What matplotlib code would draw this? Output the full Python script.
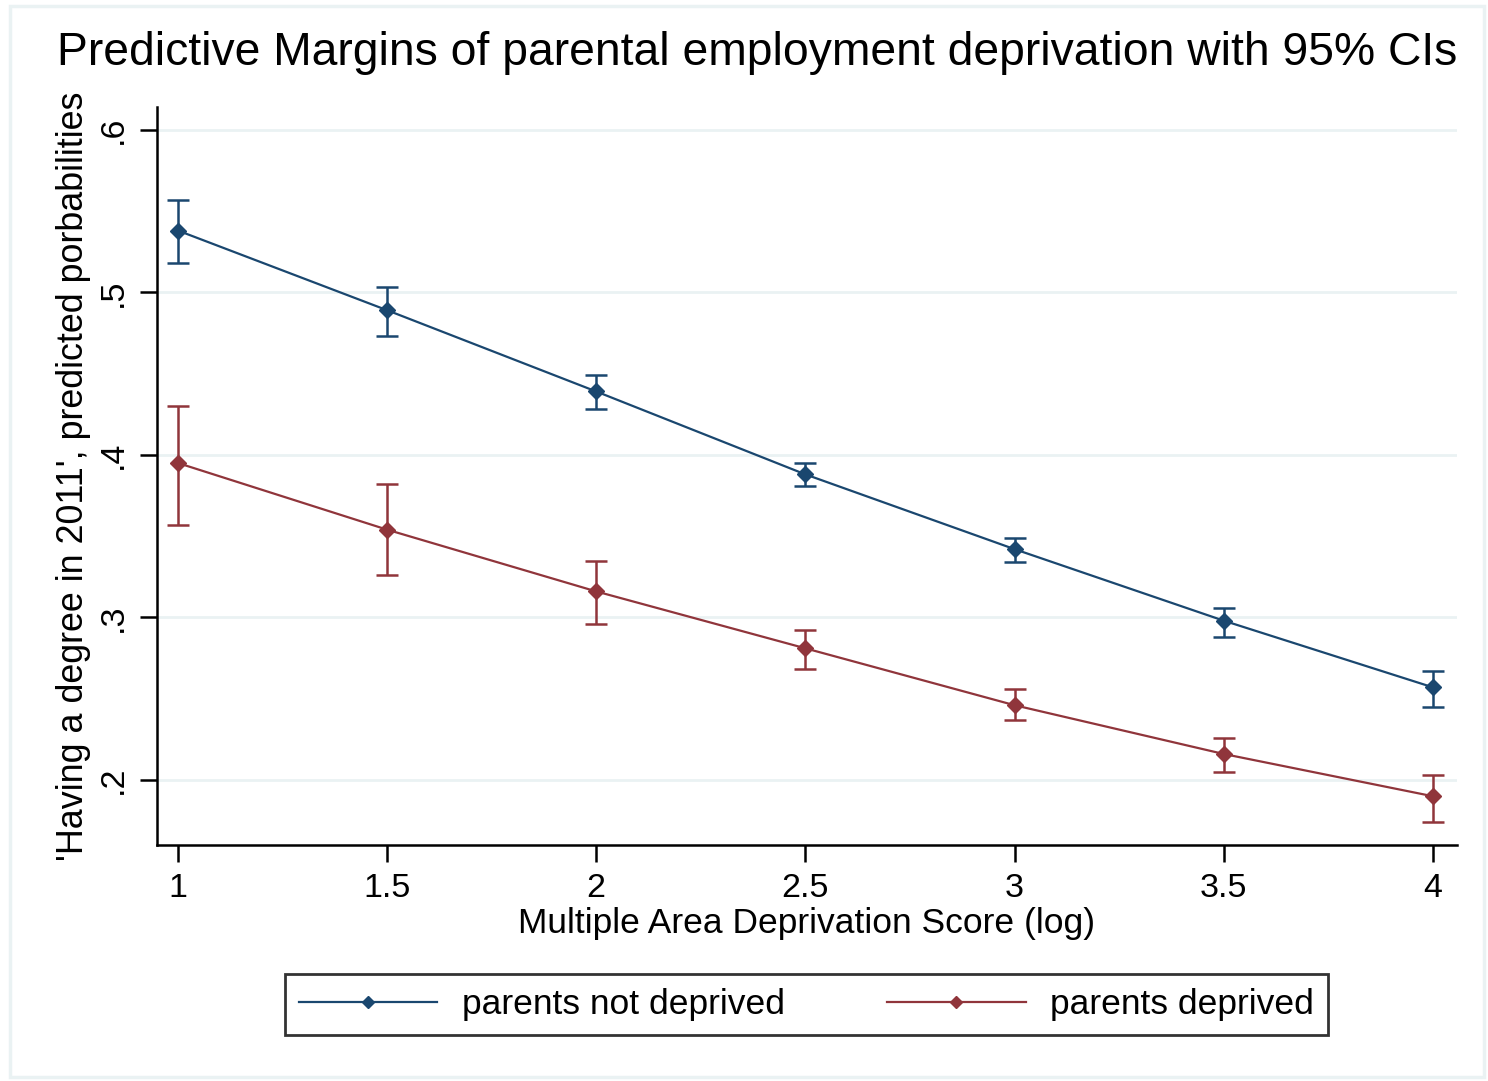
import matplotlib.pyplot as plt
from matplotlib.patches import Rectangle

plt.rcParams['font.family'] = ['Liberation Sans', 'DejaVu Sans']

# log area deprivation score
x_vals = [1, 1.5, 2, 2.5, 3, 3.5, 4]

# predicted probabilities and 95% CI bounds
not_dep = [0.538, 0.489, 0.439, 0.388, 0.342, 0.298, 0.257]
not_dep_lo = [0.518, 0.473, 0.428, 0.381, 0.334, 0.288, 0.245]
not_dep_hi = [0.557, 0.503, 0.449, 0.395, 0.349, 0.306, 0.267]

dep = [0.395, 0.354, 0.316, 0.281, 0.246, 0.216, 0.190]
dep_lo = [0.357, 0.326, 0.296, 0.268, 0.237, 0.205, 0.174]
dep_hi = [0.430, 0.382, 0.335, 0.292, 0.256, 0.226, 0.203]

x_ticks = [1, 1.5, 2, 2.5, 3, 3.5, 4]
x_ticklabels = ["1", "1.5", "2", "2.5", "3", "3.5", "4"]
y_ticks = [0.2, 0.3, 0.4, 0.5, 0.6]
y_ticklabels = [".2", ".3", ".4", ".5", ".6"]

blue = "#1a476f"
red = "#90353b"
grid_col = "#eaf2f3"

fig = plt.figure(figsize=(14.88, 10.81), dpi=100)
fig.patch.set_facecolor("white")
# thin outer frame of the graph region
fig.add_artist(Rectangle((0.007, 0.004), 0.99, 0.99, transform=fig.transFigure,
                         fill=False, edgecolor=grid_col, lw=2.5))

ax = fig.add_axes([0.1055, 0.2183, 0.8735, 0.6827])


def plot_series(y, lo, hi, color, label):
    err = [[a - b for a, b in zip(y, lo)], [b - a for a, b in zip(y, hi)]]
    ax.errorbar(x_vals, y, yerr=err, fmt="none", ecolor=color, elinewidth=1.8,
                capsize=8, capthick=1.8, zorder=3)
    ax.plot(x_vals, y, color=color, lw=1.6, marker="D", markersize=8.5,
            markeredgecolor=color, markerfacecolor=color, label=label, zorder=4)


plot_series(not_dep, not_dep_lo, not_dep_hi, blue, "parents not deprived")
plot_series(dep, dep_lo, dep_hi, red, "parents deprived")

ax.set_xlim(0.95, 4.057)
ax.set_ylim(0.16, 0.614)
ax.set_xticks(x_ticks)
ax.set_xticklabels(x_ticklabels, fontsize=24.5)
ax.set_yticks(y_ticks)
ax.set_yticklabels(y_ticklabels, fontsize=24.5, rotation=90, va="center")
ax.yaxis.grid(True, color=grid_col, lw=2)
ax.set_axisbelow(True)

for s in ["top", "right"]:
    ax.spines[s].set_visible(False)
for s in ["left", "bottom"]:
    ax.spines[s].set_linewidth(1.8)
    ax.spines[s].set_color("black")
ax.tick_params(axis="both", length=12, width=1.8, pad=8)

ax.set_xlabel("Multiple Area Deprivation Score (log)", fontsize=25.5, labelpad=2)
ax.set_ylabel("'Having a degree in 2011', predicted porbabilities", fontsize=25.8, labelpad=5)

fig.text(0.038, 0.951, "Predictive Margins of parental employment deprivation with 95% CIs",
         fontsize=33.3, ha="left", va="center")

leg = fig.legend(loc="center", bbox_to_anchor=(0.542, 0.0705), ncol=2, fontsize=25.5,
                 frameon=True, fancybox=False, edgecolor="black", handlelength=3.9,
                 columnspacing=2.9, handletextpad=0.7, borderpad=0.4, borderaxespad=0,
                 markerscale=0.75)
leg.get_frame().set_linewidth(2)

fig.savefig("out.png", dpi=100)
